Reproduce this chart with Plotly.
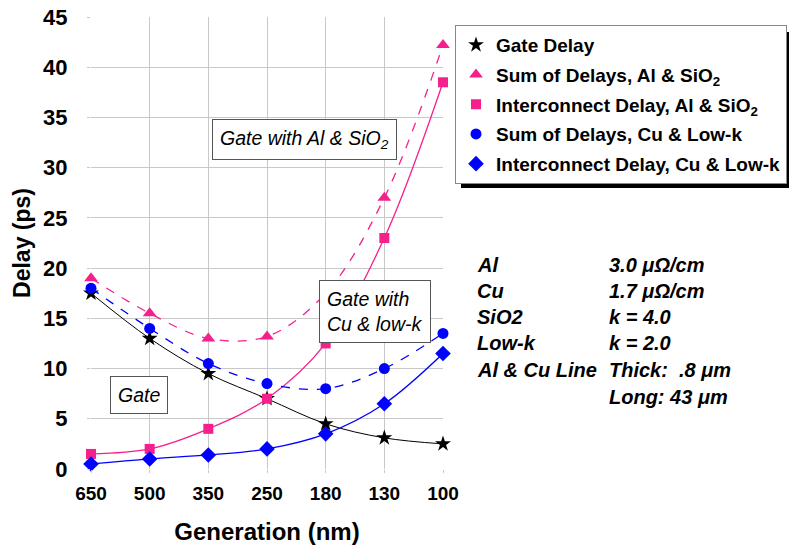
import plotly.graph_objects as go

generations = ["650", "500", "350", "250", "180", "130", "100"]
gate_delay = [17.5, 13.0, 9.5, 7.0, 4.5, 3.1, 2.5]
sum_al = [19.0, 15.5, 13.0, 13.2, 17.5, 27.0, 42.2]
inter_al = [1.5, 2.0, 4.0, 7.0, 12.5, 23.0, 38.5]
sum_cu = [18.0, 14.0, 10.5, 8.5, 8.0, 10.0, 13.5]
inter_cu = [0.5, 1.0, 1.4, 2.0, 3.5, 6.5, 11.5]

PINK = "#F5208C"
BLUE = "#0000FF"
FONT = "Arial, Liberation Sans, sans-serif"

xi = list(range(len(generations)))

fig = go.Figure()

series = [
    ("Gate Delay", gate_delay, "black", "star", 12, "solid", 1),
    ("Sum of Delays, Al &amp; SiO<sub>2</sub>", sum_al, PINK, "triangle-up", 12, "dash", 1.3),
    ("Interconnect Delay, Al &amp; SiO<sub>2</sub>", inter_al, PINK, "square", 10, "solid", 1.3),
    ("Sum of Delays, Cu &amp; Low-k", sum_cu, BLUE, "circle", 11, "dash", 1.3),
    ("Interconnect Delay, Cu &amp; Low-k", inter_cu, BLUE, "diamond", 12, "solid", 1.3),
]

for i, (name, ys, col, sym, sz, dash, lw) in enumerate(series):
    fig.add_trace(go.Scatter(
        x=xi, y=ys, mode="lines+markers", showlegend=False,
        line=dict(color=col, width=lw, dash=dash, shape="spline", smoothing=1.0),
        marker=dict(color=col, symbol=sym, size=sz),
        cliponaxis=False,
    ))

for i, (name, ys, col, sym, sz, dash, lw) in enumerate(series):
    fig.add_trace(go.Scatter(
        x=[None], y=[None], mode="markers", name=name,
        marker=dict(color=col, symbol=sym, size=sz),
        legendgroup=str(i),
    ))

L, R, T, B = 91, 443, 17, 469
W, H = 789, 546

def px(x):
    return (x - L) / (R - L)

def py(y):
    return (B - y) / (B - T)

fig.update_layout(
    width=W, height=H,
    margin=dict(l=L, r=W - R, t=T, b=H - B, autoexpand=False),
    paper_bgcolor="white", plot_bgcolor="white",
    font=dict(family=FONT, color="black"),
    legend=dict(
        x=px(455), y=py(25), xanchor="left", yanchor="top",
        bordercolor="#888888", borderwidth=1, bgcolor="white",
        font=dict(family=FONT, size=19, weight="bold", color="black"),
        traceorder="grouped", tracegroupgap=2,
        itemwidth=30,
    ),
    xaxis=dict(
        type="linear", range=[0, 6], tickvals=xi, ticktext=generations,
        showgrid=True, gridcolor="#C8C8C8", gridwidth=1,
        zeroline=False, showline=False, automargin=False,
        ticks="outside", ticklen=3, tickcolor="#C8C8C8",
        ticklabelstandoff=4,
        tickfont=dict(family=FONT, size=19, weight="bold"),
        title=dict(text="Generation (nm)", font=dict(family=FONT, size=24, weight="bold"), standoff=20),
    ),
    yaxis=dict(
        range=[0, 45], dtick=5,
        showgrid=True, gridcolor="#C8C8C8", gridwidth=1,
        zeroline=False, showline=False, automargin=False,
        ticks="outside", ticklen=3, tickcolor="#C8C8C8",
        ticklabelstandoff=15,
        tickfont=dict(family=FONT, size=22, weight="bold"),
        title=dict(text="Delay (ps)", font=dict(family=FONT, size=23, weight="bold"), standoff=6),
    ),
)

# legend shadow
fig.add_shape(type="rect", xref="paper", yref="paper",
              x0=px(461), x1=px(789), y0=py(188), y1=py(32),
              fillcolor="black", line=dict(width=0), layer="below")

# label boxes
boxes = [
    ("Gate with Al &amp; SiO<sub>2</sub>", px(304), py(139), "center"),
    ("Gate with<br>Cu &amp; low-k", px(374.5), py(311), "left"),
    ("Gate", px(138.5), py(395), "center"),
]
for txt, x, y, al in boxes:
    fig.add_annotation(
        text="<i>" + txt + "</i>", xref="paper", yref="paper", x=x, y=y,
        xanchor="center", yanchor="middle",
        showarrow=False, align=al, bgcolor="white", bordercolor="#555555",
        borderwidth=1, borderpad=7,
        font=dict(family=FONT, size=19.5, color="black"),
    )

# parameter table
table_left = ["Al", "Cu", "SiO2", "Low-k", "Al &amp; Cu Line", ""]
table_right = ["3.0 μΩ/cm", "1.7 μΩ/cm", "k = 4.0", "k = 2.0", "Thick:  .8 μm", "Long: 43 μm"]
row_y = [265, 291, 317, 343, 370, 397]
for a, b, yy in zip(table_left, table_right, row_y):
    if a:
        fig.add_annotation(text="<b><i>" + a + "</i></b>", xref="paper", yref="paper",
                           x=px(475), y=py(yy), xanchor="left", yanchor="middle",
                           showarrow=False, font=dict(family=FONT, size=20))
    fig.add_annotation(text="<b><i>" + b + "</i></b>", xref="paper", yref="paper",
                       x=px(607), y=py(yy), xanchor="left", yanchor="middle",
                       showarrow=False, font=dict(family=FONT, size=20))

fig.write_html("out.html")
